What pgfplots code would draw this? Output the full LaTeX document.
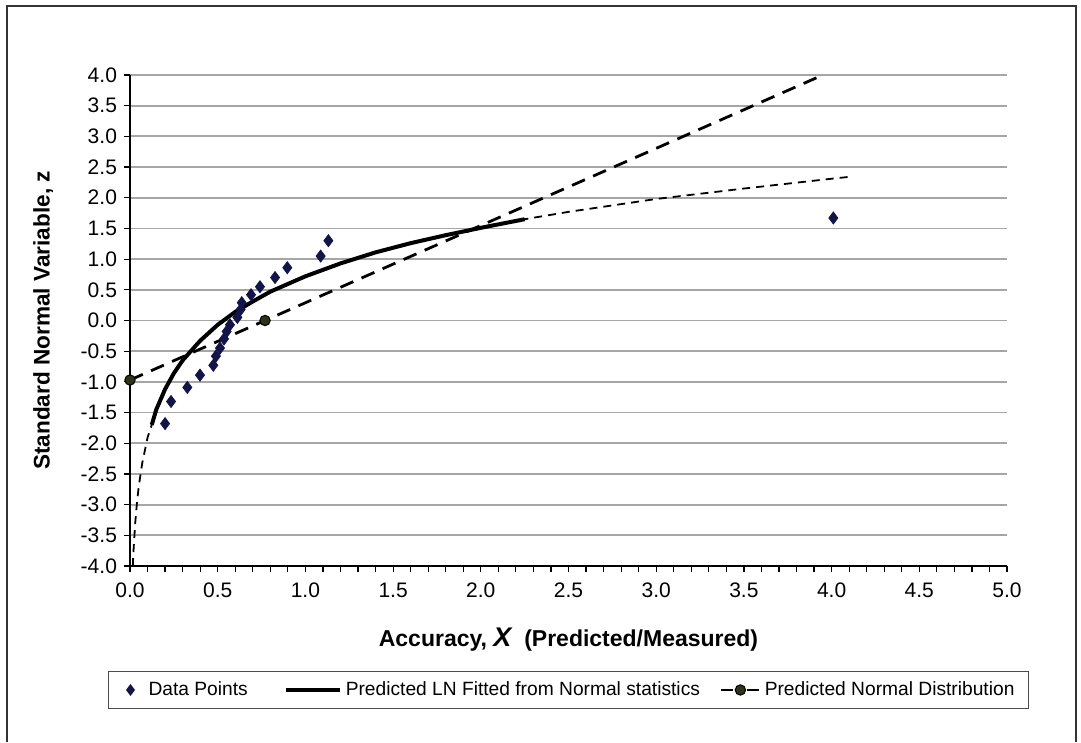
\documentclass[border=0pt]{standalone}
\usepackage{fontspec}
\setmainfont{Liberation Sans}
\usepackage{pgfplots}
\pgfplotsset{compat=1.18}
\definecolor{ptnavy}{RGB}{20,20,72}
\definecolor{normfill}{RGB}{45,50,25}

\begin{document}
\begin{tikzpicture}

\begin{axis}[
	scale only axis, width=438.5pt, height=245.5pt,
	xmin=0, xmax=5, ymin=-4, ymax=4,
	xtick={0,0.5,...,5}, minor x tick num=4,
	ytick={-4,-3.5,...,4},
	axis x line*=bottom, axis y line*=left,
	axis line style={line width=0.9pt, -},
	tick align=outside, major tick length=3pt, minor tick length=3pt,
	tick style={black, line width=0.6pt},
	ymajorgrids, grid style={gray!70, line width=0.9pt},
	clip=false,
	x tick label style={font=\fontsize{10.5}{12}\selectfont, yshift=-2pt,
		/pgf/number format/.cd, fixed, fixed zerofill, precision=1, assume math mode=true},
	y tick label style={font=\fontsize{10.5}{12}\selectfont,
		/pgf/number format/.cd, fixed, fixed zerofill, precision=1, assume math mode=true},
	xlabel={\bfseries\fontsize{11.5}{14}\selectfont Accuracy, {\fontsize{13.5}{16}\selectfont\itshape X}\ \ (Predicted/Measured)},
	xlabel style={at={(axis description cs:0.5,-0.1507)}, anchor=center},
	ylabel={\bfseries\fontsize{11.3}{13}\selectfont Standard Normal Variable, z},
	ylabel style={at={(axis description cs:-0.0990,0.5)}, anchor=center},
	legend columns=3,
	legend style={at={(0.5,-0.2525)}, anchor=center,
		font=\fontsize{9.6}{11}\selectfont, draw=black!70, line width=0.8pt,
		inner ysep=3pt, inner xsep=5pt,
		/tikz/column 2/.style={column sep=16pt},
		/tikz/column 4/.style={column sep=8pt}},
	]

	% LN curve, whole range (thin dashed)
	\addplot[black, line width=0.9pt, dash pattern=on 4pt off 3pt, forget plot] coordinates {
		(0.016,-4.0) (0.02,-3.75) (0.03,-3.29) (0.04,-2.96) (0.05,-2.70)
		(0.07,-2.32) (0.10,-1.91) (0.124,-1.70) (0.15,-1.45) (0.20,-1.12)
		(0.25,-0.86) (0.30,-0.65) (0.40,-0.33) (0.50,-0.07) (0.60,0.14)
		(0.70,0.31) (0.80,0.47) (1.00,0.72) (1.20,0.93) (1.40,1.11)
		(1.60,1.26) (1.80,1.39) (2.00,1.51) (2.25,1.65) (2.50,1.77)
		(3.00,1.98) (3.50,2.15) (4.00,2.31) (4.10,2.34)
	};

	\addplot[only marks, mark=diamond*, mark size=3pt, color=ptnavy,
		legend image code/.code={
			\path[draw=none, fill=none] (0pt,0pt) -- (13pt,0pt);
			\fill[ptnavy, draw=none] (6pt,3pt) -- (8.25pt,0pt) -- (6pt,-3pt) -- (3.75pt,0pt) -- cycle;}] coordinates {
		(0.200,-1.68) (0.234,-1.32) (0.327,-1.09) (0.399,-0.89) (0.475,-0.73)
		(0.490,-0.58) (0.513,-0.45) (0.536,-0.30) (0.551,-0.18) (0.570,-0.07)
		(0.612,0.05) (0.631,0.18) (0.637,0.29) (0.690,0.42) (0.741,0.55)
		(0.827,0.70) (0.897,0.86) (1.087,1.05) (1.131,1.30) (4.010,1.67)
	};
	\addlegendentry{Data Points}

	\addplot[black, line width=2pt,
		legend image code/.code={\draw[black, line width=2pt] (0pt,0pt) -- (27pt,0pt);}] coordinates {
		(0.124,-1.70) (0.15,-1.45) (0.20,-1.12) (0.25,-0.86) (0.30,-0.65)
		(0.40,-0.33) (0.50,-0.07) (0.60,0.14) (0.70,0.31) (0.80,0.47)
		(1.00,0.72) (1.20,0.93) (1.40,1.11) (1.60,1.26) (1.80,1.39)
		(2.00,1.51) (2.25,1.65)
	};
	\addlegendentry{Predicted LN Fitted from Normal statistics}

	\addplot[black, line width=1.4pt, dash pattern=on 7pt off 4.5pt,
		mark=*, mark indices={1,2}, mark size=2.6pt,
		mark options={solid, fill=normfill, draw=black, line width=0.5pt},
		legend image code/.code={
			\draw[black, line width=1.4pt, solid] (0pt,0pt) -- (6pt,0pt);
			\draw[black, line width=1.4pt, solid] (13pt,0pt) -- (19pt,0pt);
			\filldraw[fill=normfill, draw=black, line width=0.5pt, solid] (9.5pt,0pt) circle (2.6pt);}] coordinates {
		(0,-0.97) (0.77,0) (3.95,4.0)
	};
	\addlegendentry{Predicted Normal Distribution}

	\coordinate (O) at (rel axis cs:0,0);
\end{axis}

% outer chart frame, placed from the axis corner
\path ([shift={(-65pt,-88pt)}]O) rectangle ([shift={(475.5pt,283pt)}]O);
\draw[line width=0.8pt, black!80] ([shift={(-61.5pt,-88pt)}]O) -- ([shift={(-61.5pt,280pt)}]O)
	-- ([shift={(473pt,280pt)}]O) -- ([shift={(473pt,-88pt)}]O);
\end{tikzpicture}
\end{document}
